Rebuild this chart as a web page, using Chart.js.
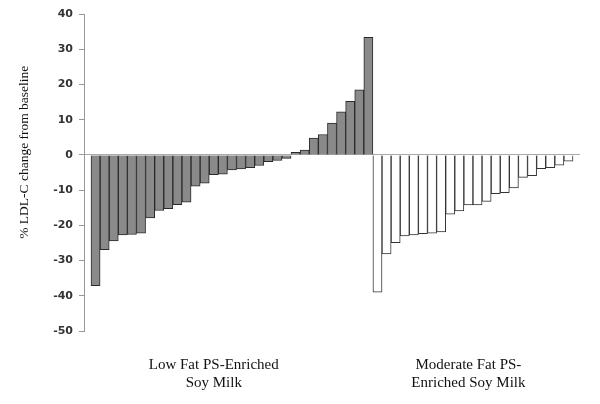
<!DOCTYPE html>
<html>
<head>
<meta charset="utf-8">
<script src="https://cdn.jsdelivr.net/npm/chart.js@4"></script>
<style>
  html, body { margin: 0; padding: 0; background: #fff; }
  #wrap { width: 600px; height: 404px; }
</style>
</head>
<body>
<div id="wrap"><canvas id="ldlChart" width="600" height="404"></canvas></div>
<script>
// % LDL-C change per subject, sorted
const lowFat = [-37.1, -26.9, -24.4, -22.7, -22.6, -22.2, -17.9, -15.8, -15.3, -14.1, -13.4,
    -8.9, -8.0, -5.6, -5.5, -4.3, -4.0, -3.6, -3.0, -1.9, -1.6, -1.0,
    0.7, 1.4, 4.8, 5.8, 9.0, 12.2, 15.2, 18.5, 33.4];
const moderateFat = [-39.0, -28.1, -24.9, -23.0, -22.7, -22.4, -22.2, -21.9, -16.8, -15.9,
    -14.2, -14.2, -13.2, -11.0, -10.7, -9.4, -6.4, -5.9, -3.9, -3.6, -2.9, -1.8];

const groupLabels = [
    ["Low Fat PS-Enriched", "Soy Milk"],
    ["Moderate Fat PS-", "Enriched Soy Milk"]
];
const groupLabelAt = [13, 41];
const yTicks = [40, 30, 20, 10, 0, -10, -20, -30, -40, -50];
const yTitle = "% LDL-C change from baseline";

const lowPoints = lowFat.map((v, i) => ({ x: i, y: v }));
const modPoints = moderateFat.map((v, i) => ({ x: lowFat.length + i, y: v }));

const ctx = document.getElementById("ldlChart").getContext("2d");
new Chart(ctx, {
    type: "bar",
    data: {
        datasets: [{
            label: "Low Fat",
            data: lowPoints,
            backgroundColor: "#8a8a8a",
            borderColor: "#2a2a2a",
            borderWidth: 1
        }, {
            label: "Moderate Fat",
            data: modPoints,
            backgroundColor: "#ffffff",
            borderColor: "#333333",
            borderWidth: 1
        }]
    },
    options: {
        responsive: false,
        animation: false,
        layout: { padding: { top: 14, right: 20, bottom: 0, left: 0 } },
        datasets: {
            bar: { grouped: false, barPercentage: 1, categoryPercentage: 1 }
        },
        plugins: {
            legend: { display: false },
            tooltip: { enabled: false }
        },
        scales: {
            x: {
                type: "linear",
                offset: false,
                min: -1.27,
                max: lowFat.length + moderateFat.length - 1 + 1.27,
                grid: { display: false, drawTicks: false },
                border: { display: false },
                afterFit: scale => { scale.height = 73; },
                afterBuildTicks: scale => {
                    scale.ticks = groupLabelAt.map(v => ({ value: v }));
                },
                ticks: {
                    autoSkip: false,
                    maxRotation: 0,
                    padding: 25,
                    color: "#111",
                    font: { family: "Liberation Serif", size: 15, lineHeight: 1.2 },
                    callback: (value) => groupLabels[groupLabelAt.indexOf(value)] || ""
                }
            },
            y: {
                min: -50,
                max: 40,
                afterFit: scale => { scale.width = 84; },
                afterBuildTicks: scale => {
                    scale.ticks = yTicks.map(v => ({ value: v }));
                },
                grid: {
                    color: c => (c.tick && c.tick.value === 0) ? "#aaaaaa" : "rgba(0,0,0,0)",
                    tickColor: "#999",
                    tickLength: 5
                },
                border: { display: true, color: "#999" },
                ticks: {
                    padding: 6,
                    color: "#333",
                    font: { family: "DejaVu Sans", size: 11, weight: "bold" }
                },
                title: {
                    display: true,
                    // leading spaces nudge the rotated title up, as in the original
                    text: "            " + yTitle,
                    color: "#111",
                    padding: { top: 16, bottom: 0 },
                    font: { family: "Liberation Serif", size: 13.5, lineHeight: 1.2 }
                }
            }
        }
    }
});
</script>
</body>
</html>
